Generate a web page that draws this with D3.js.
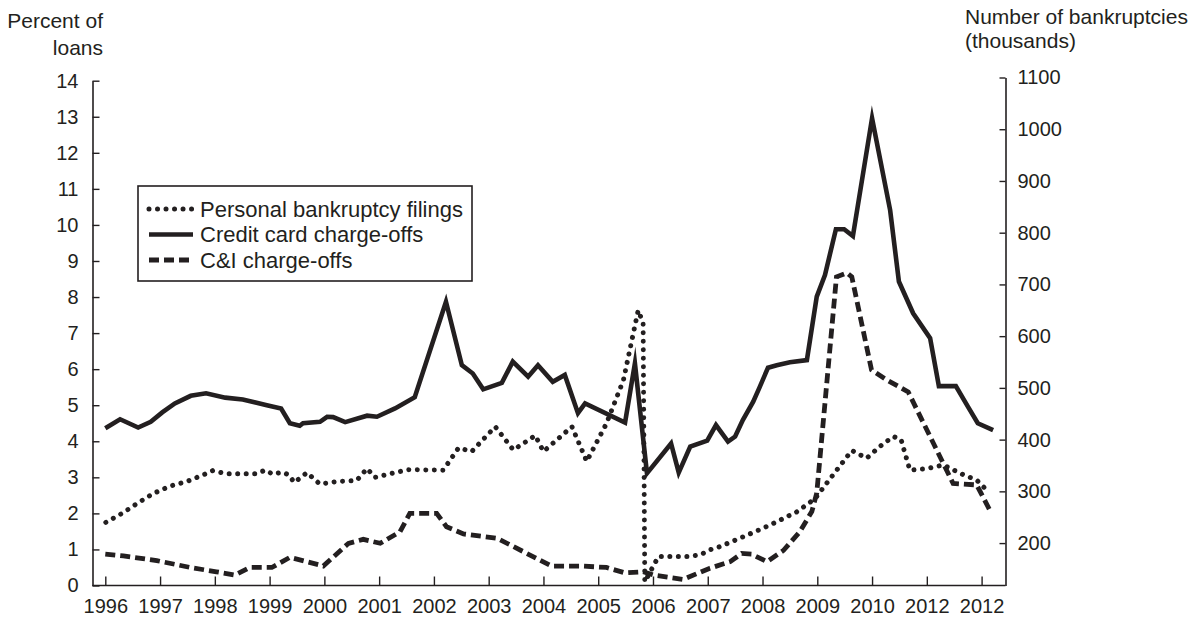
<!DOCTYPE html>
<html>
<head>
<meta charset="utf-8">
<script src="https://cdn.jsdelivr.net/npm/d3@7"></script>
<style>
  html, body { margin: 0; padding: 0; background: #ffffff; }
  svg { display: block; font-family: "Liberation Sans", Arial, Helvetica, sans-serif; }
  text { fill: #231f20; }
</style>
</head>
<body>
<svg id="chart" width="1199" height="619"></svg>
<script>
// ---------------- DATA ----------------
const xTickYears  = [1996,1997,1998,1999,2000,2001,2002,2003,2004,2005,2006,2007,2008,2009,2010,2011,2012];
const xTickLabels = ["1996","1997","1998","1999","2000","2001","2002","2003","2004","2005","2006","2007","2008","2009","2010","2012","2012"];
const leftTicks  = [0,1,2,3,4,5,6,7,8,9,10,11,12,13,14];
const rightTicks = [200,300,400,500,600,700,800,900,1000,1100];

const seriesNames = ["Personal bankruptcy filings", "Credit card charge-offs", "C&I charge-offs"];

// Credit card charge-offs (percent of loans, left axis)
const ccYears = [1996.00,1996.27,1996.60,1996.83,1997.04,1997.27,1997.56,1997.84,1998.19,1998.51,1998.95,1999.21,1999.37,1999.55,1999.61,1999.92,2000.05,2000.16,2000.38,2000.78,2000.96,2001.29,2001.65,2002.22,2002.51,2002.71,2002.90,2003.24,2003.44,2003.72,2003.90,2004.17,2004.39,2004.63,2004.76,2005.49,2005.67,2005.89,2006.33,2006.47,2006.68,2006.99,2007.15,2007.37,2007.50,2007.64,2007.83,2007.95,2008.10,2008.26,2008.50,2008.81,2008.99,2009.14,2009.34,2009.49,2009.65,2010.00,2010.33,2010.49,2010.75,2011.06,2011.22,2011.53,2011.75,2011.93,2012.21];
const ccValues = [4.36,4.61,4.38,4.54,4.80,5.05,5.26,5.33,5.21,5.16,5.00,4.91,4.50,4.43,4.50,4.54,4.68,4.67,4.53,4.71,4.68,4.91,5.22,7.87,6.11,5.88,5.44,5.62,6.21,5.79,6.11,5.65,5.84,4.78,5.05,4.52,6.16,3.11,3.94,3.13,3.85,4.02,4.45,3.99,4.13,4.59,5.10,5.51,6.04,6.11,6.19,6.25,8.01,8.61,9.88,9.88,9.69,12.96,10.41,8.43,7.55,6.86,5.53,5.53,4.96,4.50,4.31];

// Personal bankruptcy filings (thousands, right axis)
const bkYears = [1996.01,1996.30,1996.60,1996.88,1997.18,1997.49,1997.79,1997.96,1998.22,1998.76,1998.92,1999.06,1999.22,1999.35,1999.45,1999.68,1999.92,2000.23,2000.59,2000.78,2000.92,2001.20,2001.53,2002.17,2002.45,2002.69,2003.12,2003.45,2003.85,2004.00,2004.52,2004.79,2005.15,2005.46,2005.73,2005.82,2005.85,2006.10,2006.62,2006.86,2007.04,2007.22,2007.71,2008.14,2008.62,2008.96,2009.26,2009.63,2009.90,2010.18,2010.39,2010.53,2010.69,2011.00,2011.30,2011.67,2011.91,2012.09];
const bkValues = [240,257,278,296,310,319,332,340,334,334,341,333,337,332,317,336,314,319,321,344,327,334,342,341,384,377,425,380,408,377,425,358,431,515,650,625,125,174,174,177,187,193,215,235,260,286,328,379,364,390,406,400,341,344,351,332,322,303];

// C&I charge-offs (percent of loans, left axis)
const ciYears = [1996.00,1996.33,1996.94,1997.55,1998.03,1998.37,1998.64,1999.04,1999.37,1999.68,1999.98,2000.44,2000.71,2001.02,2001.38,2001.56,2002.05,2002.23,2002.54,2003.15,2003.45,2004.15,2004.70,2005.15,2005.49,2005.82,2006.01,2006.55,2007.04,2007.41,2007.62,2007.80,2008.08,2008.38,2008.68,2008.90,2008.99,2009.35,2009.54,2009.63,2009.99,2010.27,2010.66,2011.06,2011.48,2011.91,2012.15];
const ciValues = [0.87,0.82,0.69,0.50,0.38,0.29,0.50,0.50,0.78,0.66,0.54,1.17,1.28,1.17,1.49,2.00,2.00,1.63,1.43,1.31,1.08,0.54,0.54,0.50,0.35,0.38,0.29,0.17,0.48,0.66,0.89,0.87,0.66,0.97,1.49,2.05,2.56,8.56,8.67,8.56,5.98,5.70,5.37,4.13,2.83,2.79,2.09];

// ---------------- LAYOUT ----------------
const INK = "#231f20";
const frame = { left: 92.5, right: 1005.5, top: 80.7, bottom: 585.5 };
const svg = d3.select("#chart");

const x  = d3.scaleLinear().domain([1996, 2012]).range([105.3, 981.6]);
const yL = d3.scaleLinear().domain([0, 14]).range([frame.bottom, frame.top]);
const yR = d3.scaleLinear().domain([118, 1100]).range([frame.bottom, 77.5]);

// bottom axis line
svg.append("line")
  .attr("x1", frame.left).attr("x2", frame.right)
  .attr("y1", frame.bottom).attr("y2", frame.bottom)
  .attr("stroke", INK).attr("stroke-width", 1.6);

// x axis
const xAxis = svg.append("g")
  .attr("transform", `translate(0,${frame.bottom})`)
  .call(d3.axisBottom(x).tickValues(xTickYears)
        .tickFormat((d, i) => xTickLabels[i])
        .tickSizeInner(-9).tickSizeOuter(0).tickPadding(13.5));
xAxis.select(".domain").remove();
xAxis.selectAll(".tick line").attr("stroke", INK).attr("stroke-width", 1.4);
xAxis.selectAll(".tick text").attr("font-size", 20).attr("fill", INK);

// left axis
const lAxis = svg.append("g")
  .attr("transform", `translate(${frame.left},0)`)
  .call(d3.axisLeft(yL).tickValues(leftTicks).tickFormat(d3.format("d"))
        .tickSizeInner(-7).tickSizeOuter(0).tickPadding(14));
lAxis.select(".domain").attr("stroke", INK).attr("stroke-width", 1.6);
lAxis.selectAll(".tick line").attr("stroke", INK).attr("stroke-width", 1.4);
lAxis.selectAll(".tick text").attr("font-size", 20).attr("fill", INK);

// right axis
const rAxis = svg.append("g")
  .attr("transform", `translate(${frame.right},0)`)
  .call(d3.axisRight(yR).tickValues(rightTicks).tickFormat(d3.format("d"))
        .tickSizeInner(-6).tickSizeOuter(0).tickPadding(12));
rAxis.select(".domain").attr("stroke", INK).attr("stroke-width", 1.6);
rAxis.selectAll(".tick line").attr("stroke", INK).attr("stroke-width", 1.4);
rAxis.selectAll(".tick text").attr("font-size", 20).attr("fill", INK);

// axis titles
svg.append("text").attr("x", 103).attr("y", 28).attr("text-anchor", "end")
  .attr("font-size", 21).text("Percent of");
svg.append("text").attr("x", 103).attr("y", 55).attr("text-anchor", "end")
  .attr("font-size", 21).text("loans");
svg.append("text").attr("x", 965).attr("y", 24).attr("text-anchor", "start")
  .attr("font-size", 21).text("Number of bankruptcies");
svg.append("text").attr("x", 965).attr("y", 48).attr("text-anchor", "start")
  .attr("font-size", 21).text("(thousands)");

// ---------------- SERIES ----------------
const styles = [
  { width: 5,   dash: "0.01 8.5", cap: "round" },   // dotted
  { width: 4.6, dash: null,       cap: "butt"  },   // solid
  { width: 4.8, dash: "10 5",     cap: "butt"  }    // dashed
];

const bkData = bkYears.map((t, i) => ({ t, v: bkValues[i] }));
const ccData = ccYears.map((t, i) => ({ t, v: ccValues[i] }));
const ciData = ciYears.map((t, i) => ({ t, v: ciValues[i] }));

const lineR = d3.line().x(d => x(d.t)).y(d => yR(d.v));
const lineL = d3.line().x(d => x(d.t)).y(d => yL(d.v));

function drawSeries(path, st) {
  const p = svg.append("path").attr("d", path)
    .attr("fill", "none").attr("stroke", INK)
    .attr("stroke-width", st.width).attr("stroke-linecap", st.cap)
    .attr("stroke-linejoin", "miter").attr("stroke-miterlimit", 10);
  if (st.dash) p.attr("stroke-dasharray", st.dash);
}
drawSeries(lineR(bkData), styles[0]);
drawSeries(lineL(ccData), styles[1]);
drawSeries(lineL(ciData), styles[2]);

// ---------------- LEGEND ----------------
const legend = svg.append("g");
legend.append("rect").attr("x", 138).attr("y", 186).attr("width", 334).attr("height", 95)
  .attr("fill", "#ffffff").attr("stroke", INK).attr("stroke-width", 1.6);
seriesNames.forEach((name, i) => {
  const cy = 209 + i * 25.5;
  const st = styles[i];
  const l = legend.append("line").attr("x1", 149).attr("x2", 193).attr("y1", cy).attr("y2", cy)
    .attr("stroke", INK).attr("stroke-width", st.width).attr("stroke-linecap", st.cap);
  if (st.dash) l.attr("stroke-dasharray", st.dash);
  legend.append("text").attr("x", 200).attr("y", cy).attr("dy", "0.35em")
    .attr("font-size", 22).text(name);
});
</script>
</body>
</html>
